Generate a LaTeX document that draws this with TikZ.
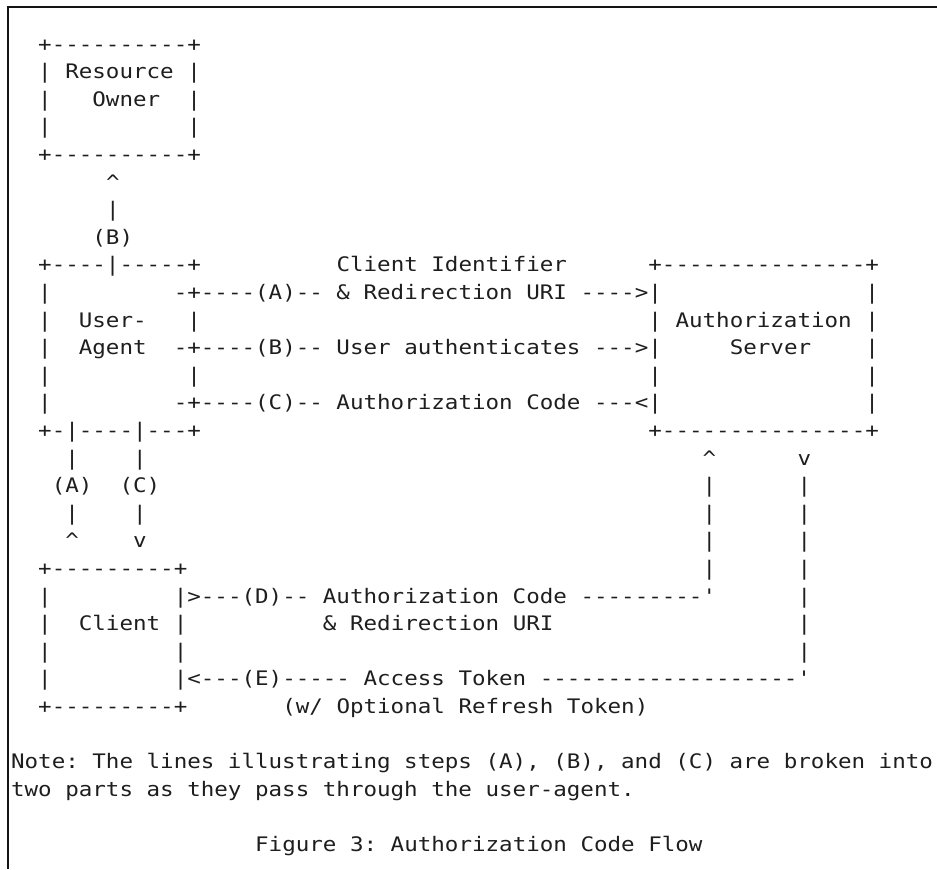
\documentclass[tikz,border=0pt]{standalone}
\usepackage{fontspec}
\setmonofont[FakeStretch=1.126]{DejaVu Sans Mono}
\usepackage{tikz}
\definecolor{ink}{RGB}{30, 30, 30}
\definecolor{frame}{RGB}{20, 20, 20}

\begin{document}
\frenchspacing
\begin{tikzpicture}[x=0.75pt, y=-0.75pt,
  ascii/.style={anchor=base west, inner sep=0pt, outer sep=0pt, text=ink,
                font=\fontsize{15}{18}\selectfont\ttfamily}]
  \useasboundingbox (0, 0) rectangle (937, 869);
  \draw [color=frame, line width=1.7pt] (8, 869) |- (937, 7);

  \begin{scope}[shift={(-29.6, 51)}, x=10.17pt, y=-20.7pt]
    % resource owner
    \node[ascii] (ro-top) at (5, 0) {+----------+};
    \node[ascii] (ro-res) at (5, 1) {| Resource |};
    \node[ascii] (ro-own) at (9, 2) {Owner};
    \foreach \r in {2, 3} {
      \node[ascii] (ro-l\r) at (5, \r) {|};
      \node[ascii] (ro-r\r) at (16, \r) {|};
    }
    \node[ascii] (ro-bot) at (5, 4) {+----------+};
    \node[ascii] (b-tip) at (10, 5) {\textasciicircum};
    \node[ascii] (b-bar) at (10, 6) {|};
    \node[ascii] (b-lab) at (9, 7) {(B)};

    % user-agent
    \node[ascii] (ua-top) at (5, 8) {+----|-----+};
    \foreach \r in {9, ..., 13} {
      \node[ascii] (ua-l\r) at (5, \r) {|};
    }
    \node[ascii] (ua-r10) at (16, 10) {|};
    \node[ascii] (ua-r12) at (16, 12) {|};
    \node[ascii] (ua-user) at (8, 10) {User-};
    \node[ascii] (ua-agent) at (8, 11) {Agent};
    \node[ascii] (ua-bot) at (5, 14) {+-|----|---+};

    \node[ascii] (a-lab) at (27, 8) {Client Identifier};
    \node[ascii] (a-line) at (15, 9) {-+----(A)-- \& Redirection URI ---->|};
    \node[ascii] (b-line) at (15, 11) {-+----(B)-- User authenticates --->|};
    \node[ascii] (c-line) at (15, 13) {-+----(C)-- Authorization Code ---<|};

    % authorization server
    \node[ascii] (as-top) at (50, 8) {+---------------+};
    \node[ascii] (as-l10) at (50, 10) {|};
    \node[ascii] (as-l12) at (50, 12) {|};
    \foreach \r in {9, ..., 13} {
      \node[ascii] (as-r\r) at (66, \r) {|};
    }
    \node[ascii] (as-auth) at (52, 10) {Authorization};
    \node[ascii] (as-serv) at (56, 11) {Server};
    \node[ascii] (as-bot) at (50, 14) {+---------------+};

    % steps (A) and (C) below the user-agent
    \node[ascii] (a-bar1) at (7, 15) {|};
    \node[ascii] (c-bar1) at (12, 15) {|};
    \node[ascii] (a-lab2) at (6, 16) {(A)};
    \node[ascii] (c-lab2) at (11, 16) {(C)};
    \node[ascii] (a-bar2) at (7, 17) {|};
    \node[ascii] (c-bar2) at (12, 17) {|};
    \node[ascii] (a-tip) at (7, 18) {\textasciicircum};
    \node[ascii] (c-tip) at (12, 18) {v};

    % legs of the server
    \node[ascii] (d-tip) at (54, 15) {\textasciicircum};
    \node[ascii] (e-tip) at (61, 15) {v};
    \foreach \r in {16, ..., 19} {
      \node[ascii] (d-bar\r) at (54, \r) {|};
    }
    \foreach \r in {16, ..., 22} {
      \node[ascii] (e-bar\r) at (61, \r) {|};
    }

    % client
    \node[ascii] (cl-top) at (5, 19) {+---------+};
    \foreach \r in {20, ..., 23} {
      \node[ascii] (cl-l\r) at (5, \r) {|};
    }
    \node[ascii] (cl-name) at (8, 21) {Client};
    \node[ascii] (cl-r21) at (15, 21) {|};
    \node[ascii] (cl-r22) at (15, 22) {|};
    \node[ascii] (cl-bot) at (5, 24) {+---------+};

    \node[ascii] (d-line) at (15, 20) {|>---(D)-- Authorization Code ---------'};
    \node[ascii] (d-lab) at (26, 21) {\& Redirection URI};
    \node[ascii] (e-line) at (15, 23) {|<---(E)----- Access Token -------------------'};
    \node[ascii] (e-lab) at (23, 24) {(w/ Optional Refresh Token)};

    % note and caption
    \node[ascii] (note1) at (3, 26) {Note: The lines illustrating steps (A), (B), and (C) are broken into};
    \node[ascii] (note2) at (3, 27) {two parts as they pass through the user-agent.};
    \node[ascii] (caption) at (21, 29) {Figure 3: Authorization Code Flow};
  \end{scope}
\end{tikzpicture}
\end{document}
